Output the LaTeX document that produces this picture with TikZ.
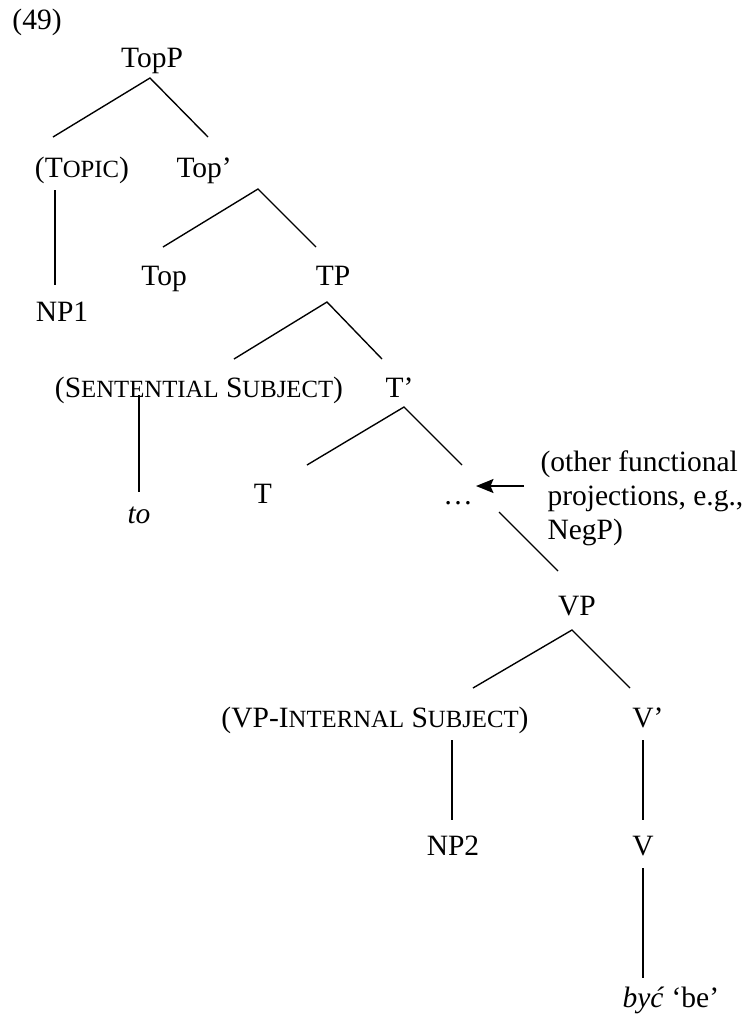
\documentclass[tikz,border=0pt]{standalone}
\usepackage{fontspec}
\setmainfont{Liberation Serif}
\usetikzlibrary{arrows.meta}
\newcommand\fsc[1]{{\fontsize{9.9}{12}\selectfont #1}}
\begin{document}
\begin{tikzpicture}[x=0.4pt,y=-0.4pt,
  font=\fontsize{11.8}{14}\selectfont,
  lbl/.style={inner sep=0pt, anchor=base},
  lblw/.style={inner sep=0pt, anchor=base west},
  edge/.style={line width=0.55pt},
  pointer/.style={line width=0.7pt, -{Stealth[length=7pt,width=5.6pt,inset=1.2pt]}}]
\useasboundingbox (0,0) rectangle (745,1029);
% labels
\node[lblw] (ex) at (12,29) {(49)};
\node[lbl] (TopP) at (152,67) {TopP};
\node[lbl] (Topic) at (82,177) {(T\fsc{OPIC})};
\node[lblw] (Topbar) at (176,177) {Top’};
\node[lbl] (NP1) at (62,321) {NP1};
\node[lbl] (Top) at (164,285) {Top};
\node[lbl] (TP) at (333,285) {TP};
\node[lbl] (SS) at (199,397) {(S\fsc{ENTENTIAL} S\fsc{UBJECT})};
\node[lblw] (Tbar) at (385,397) {T’};
\node[lbl] (to) at (139,523) {\itshape to};
\node[lbl] (T) at (263,503) {T};
\node[lbl] (dots) at (458,504) {…};
\node[lblw] (other1) at (540,471) {(other functional};
\node[lblw] (other2) at (547,505) {projections, e.g.,};
\node[lblw] (other3) at (547,539) {NegP)};
\node[lbl] (VP) at (577,615) {VP};
\node[lbl] (VPIS) at (375,727) {(VP-I\fsc{NTERNAL} S\fsc{UBJECT})};
\node[lbl] (Vbar) at (648,727) {V’};
\node[lbl] (NP2) at (453,855) {NP2};
\node[lbl] (V) at (643,855) {V};
\node[lblw] (byc) at (622,1007) {\textit{być} ‘be’};
% branch points
\coordinate (TopP-a) at (150,78);
\coordinate (Topic-t) at (53,137);
\coordinate (Topbar-t) at (208,137);
\coordinate (Topic-b) at (55,190);
\coordinate (NP1-t) at (55,285);
\coordinate (Topbar-a) at (258,189);
\coordinate (Top-t) at (163,247);
\coordinate (TP-t) at (316,247);
\coordinate (TP-a) at (327,302);
\coordinate (SS-t) at (234,359);
\coordinate (Tbar-t) at (382,359);
\coordinate (SS-b) at (139,395);
\coordinate (to-t) at (139,492);
\coordinate (Tbar-a) at (404,407);
\coordinate (T-t) at (307,465);
\coordinate (dots-t) at (462,465);
\coordinate (dots-b) at (499,512);
\coordinate (VP-t) at (558,571);
\coordinate (arrow-s) at (524,486);
\coordinate (arrow-e) at (476,486);
\coordinate (VP-a) at (572,630);
\coordinate (VPIS-t) at (473,688);
\coordinate (Vbar-t) at (630,688);
\coordinate (VPIS-b) at (452,740);
\coordinate (NP2-t) at (452,820);
\coordinate (Vbar-b) at (643,740);
\coordinate (V-t) at (643,820);
\coordinate (V-b) at (643,868);
\coordinate (byc-t) at (643,978);
% branches
\draw[edge] (Topic-t) -- (TopP-a) -- (Topbar-t);
\draw[edge] (Topic-b) -- (NP1-t);
\draw[edge] (Top-t) -- (Topbar-a) -- (TP-t);
\draw[edge] (SS-t) -- (TP-a) -- (Tbar-t);
\draw[edge] (SS-b) -- (to-t);
\draw[edge] (T-t) -- (Tbar-a) -- (dots-t);
\draw[edge] (dots-b) -- (VP-t);
\draw[pointer] (arrow-s) -- (arrow-e);
\draw[edge] (VPIS-t) -- (VP-a) -- (Vbar-t);
\draw[edge] (VPIS-b) -- (NP2-t);
\draw[edge] (Vbar-b) -- (V-t);
\draw[edge] (V-b) -- (byc-t);
\end{tikzpicture}
\end{document}
